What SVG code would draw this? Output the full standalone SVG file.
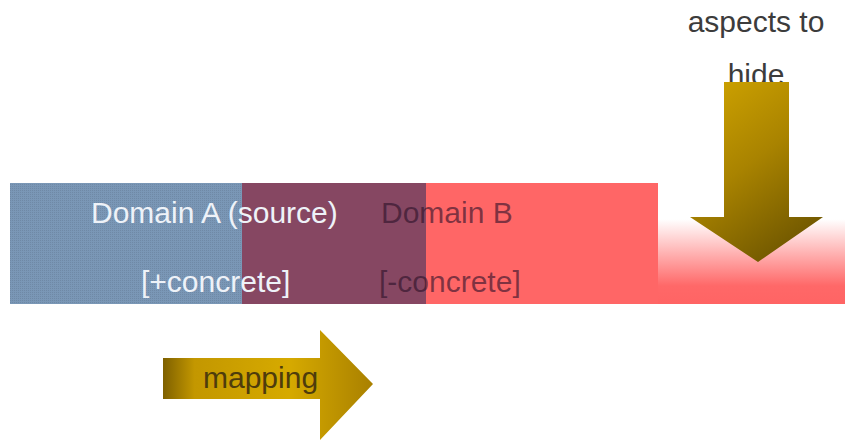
<svg xmlns="http://www.w3.org/2000/svg" width="845" height="443" viewBox="0 0 845 443">
<style>
  text { font-family: "Liberation Sans", Arial, sans-serif; font-size: 30px; }
  .light { fill: #eef2f8; }
  .dark { fill: #2a1028; fill-opacity: 0.6; }
  .gray { fill: #3c3c3c; }
  .map { fill: #4e3c0c; }
</style>
<defs>
  <linearGradient id="fade" x1="0" y1="183" x2="0" y2="304" gradientUnits="userSpaceOnUse">
    <stop offset="0" stop-color="#ffffff"/>
    <stop offset="0.3" stop-color="#ffffff"/>
    <stop offset="0.85" stop-color="#ff6868"/>
    <stop offset="1" stop-color="#ff6464"/>
  </linearGradient>
  <linearGradient id="goldDown" x1="690" y1="82" x2="823" y2="262" gradientUnits="userSpaceOnUse">
    <stop offset="0" stop-color="#d2a600"/>
    <stop offset="0.45" stop-color="#a98300"/>
    <stop offset="1" stop-color="#5f4a00"/>
  </linearGradient>
  <linearGradient id="goldRight" x1="163" y1="0" x2="373" y2="0" gradientUnits="userSpaceOnUse">
    <stop offset="0" stop-color="#7e6000"/>
    <stop offset="0.15" stop-color="#c39700"/>
    <stop offset="0.6" stop-color="#d6aa00"/>
    <stop offset="1" stop-color="#a98000"/>
  </linearGradient>
  <pattern id="dots" width="2" height="2" patternUnits="userSpaceOnUse">
    <rect width="2" height="2" fill="#7a97b6"/>
    <rect width="1" height="1" fill="#6f89a6"/>
  </pattern>
</defs>
<g id="domainB">
  <rect x="426" y="183" width="232" height="121" fill="#ff6666"/>
  <rect x="658" y="183" width="187" height="121" fill="url(#fade)"/>
</g>
<g id="domainA">
  <rect x="10" y="183" width="232" height="121" fill="url(#dots)"/>
  <rect x="242" y="183" width="184" height="121" fill="#864762"/>
</g>
<g id="labels">
  <text class="light" x="91" y="223">Domain A (source)</text>
  <text class="dark" x="381" y="223">Domain B</text>
  <text class="light" x="141" y="292">[+concrete]</text>
  <text class="dark" x="379" y="292">[-concrete]</text>
</g>
<g id="aspects">
  <text class="gray" x="756" y="32" text-anchor="middle">aspects to</text>
  <text class="gray" x="756" y="85" text-anchor="middle">hide</text>
  <path d="M724,82 H789 V217 H823 L758,262 L690,217 H724 Z" fill="url(#goldDown)"/>
</g>
<g id="mapping">
  <path d="M163,358 H320 V330 L373,384 L320,440 V399 H163 Z" fill="url(#goldRight)"/>
  <text class="map" x="203" y="388">mapping</text>
</g>
<g id="connectors"/>
</svg>
